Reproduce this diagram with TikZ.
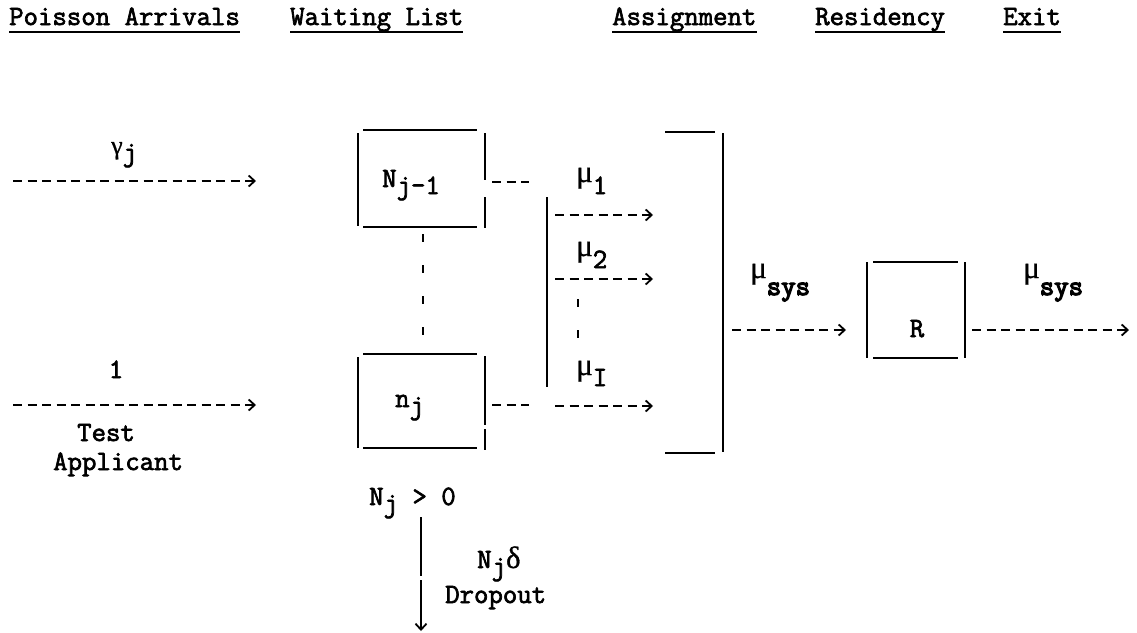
\documentclass[tikz,border=0pt]{standalone}
\usepackage{fontspec}
\usetikzlibrary{arrows.meta}
\newfontfamily\twf{Latin Modern Mono}[FakeBold=2.4]
\newfontfamily\twb{Latin Modern Mono}[FakeBold=4.5]
\newfontfamily\grf{Liberation Serif}[FakeBold=0.8]
\newcommand{\tw}{\twf\fontsize{28}{32}\selectfont}
\newcommand{\gk}[2][31]{{\grf\fontsize{#1}{30}\selectfont #2}}
\newcommand{\lo}[2][8pt]{\raisebox{-#1}{#2}}
\tikzset{
  hdr/.style={anchor=base west, inner sep=0pt, font=\tw},
  lab/.style={anchor=base west, inner sep=0pt, font=\tw},
  clab/.style={anchor=base, inner sep=0pt, font=\tw},
  uline/.style={line width=2.8pt},
  edge/.style={line width=2.6pt},
  flow/.style={line width=2.4pt, dash pattern=on 9pt off 5.5pt,
    -{Straight Barb[length=6pt,width=11pt,line width=1.8pt]}},
  stub/.style={line width=2.4pt, dash pattern=on 9pt off 5.5pt},
  dots/.style={line width=2.6pt, dash pattern=on 8pt off 23pt}
}
\begin{document}
\begin{tikzpicture}[x=1pt,y=-1pt]
\useasboundingbox (0,0) rectangle (1137,632);
% headers
\node[hdr] (h1) at (9,25) {Poisson Arrivals};
\node[hdr] (h2) at (290,25) {Waiting List};
\node[hdr] (h3) at (612,25) {Assignment};
\node[hdr] (h4) at (815,25) {Residency};
\node[hdr] (h5) at (1003,25) {Exit};
\foreach \h in {h1,h2,h3,h4,h5}
  \draw[uline] ([yshift=-7pt]\h.base west) -- ([yshift=-7pt]\h.base east);
% arrivals
\coordinate (a1s) at (13,181); \coordinate (a1e) at (256,181);
\draw[flow] (a1s) -- (a1e);
\node[lab] (gam) at (111,154) {\gk[26]{γ}\lo[7pt]{j}};
\coordinate (a2s) at (13,405); \coordinate (a2e) at (256,405);
\draw[flow] (a2s) -- (a2e);
\node[clab] (one) at (116,378) {1};
\node[lab] (test) at (77,441) {Test};
\node[lab] (appl) at (53,470) {Applicant};
% N_{j-1} box
\draw[edge] (358,133) -- (358,226);
\draw[edge] (363,130) -- (477,130);
\draw[edge] (363,227) -- (477,227);
\draw[edge] (485,133) -- (485,180);
\draw[edge] (485,197) -- (485,228);
\node[lab] (Nj1) at (382,187) {N\lo[7pt]{j-1}};
\coordinate (s1s) at (492,182); \coordinate (s1e) at (529,182);
\draw[stub] (s1s) -- (s1e);
% dots between boxes
\draw[dots] (423,234) -- (423,336);
% n_j box
\draw[edge] (358,357) -- (358,448);
\draw[edge] (363,354) -- (477,354);
\draw[edge] (363,448) -- (477,448);
\draw[edge] (485,356) -- (485,425);
\draw[edge] (485,429) -- (485,450);
\node[lab] (nj) at (395,407) {n\lo[7pt]{j}};
\coordinate (s2s) at (492,405); \coordinate (s2e) at (529,405);
\draw[stub] (s2s) -- (s2e);
% split bar
\draw[edge] (547,197) -- (547,387);
\coordinate (m1s) at (555,215); \coordinate (m1e) at (653,215);
\coordinate (m2s) at (555,279); \coordinate (m2e) at (653,279);
\coordinate (m3s) at (555,406); \coordinate (m3e) at (653,406);
\draw[flow] (m1s) -- (m1e);
\draw[flow] (m2s) -- (m2e);
\draw[flow] (m3s) -- (m3e);
\node[lab] (mu1) at (576,182) {\gk{μ}\lo[12pt]{1}};
\node[lab] (mu2) at (576,256) {\gk{μ}\lo[12pt]{2}};
\node[lab] (muI) at (576,375) {\gk{μ}\lo[11pt]{I}};
\draw[dots] (578,299) -- (578,340);
% assignment bracket
\draw[edge] (665,132) -- (715,132);
\draw[edge] (723,133) -- (723,452);
\draw[edge] (665,453) -- (715,453);
% mu_sys to R
\coordinate (r1s) at (732,330); \coordinate (r1e) at (846,330);
\draw[flow] (r1s) -- (r1e);
\node[lab] (ms1) at (750,278) {\gk{μ}\lo[17pt]{\twb sys}};
% R box
\draw[edge] (867,262) -- (867,358);
\draw[edge] (873,262) -- (958,262);
\draw[edge] (873,358) -- (958,358);
\draw[edge] (965,262) -- (965,358);
\node[clab] (R) at (917,337) {R};
% exit
\coordinate (r2s) at (972,330); \coordinate (r2e) at (1129,330);
\draw[flow] (r2s) -- (r2e);
\node[lab] (ms2) at (1023,278) {\gk{μ}\lo[17pt]{\twb sys}};
% dropout
\node[lab] (cond) at (369,505) {N\lo[7pt]{j} > 0};
\coordinate (d1) at (421,517); \coordinate (d2) at (421,576);
\coordinate (d3) at (421,580); \coordinate (d4) at (421,631);
\draw[edge] (d1) -- (d2);
\draw[edge,-{Straight Barb[length=6pt,width=11pt,line width=1.8pt]}] (d3) -- (d4);
\node[lab] (ndel) at (477,568) {N\lo[7pt]{j}\gk{δ}};
\node[lab] (drop) at (445,603) {Dropout};
\end{tikzpicture}
\end{document}
